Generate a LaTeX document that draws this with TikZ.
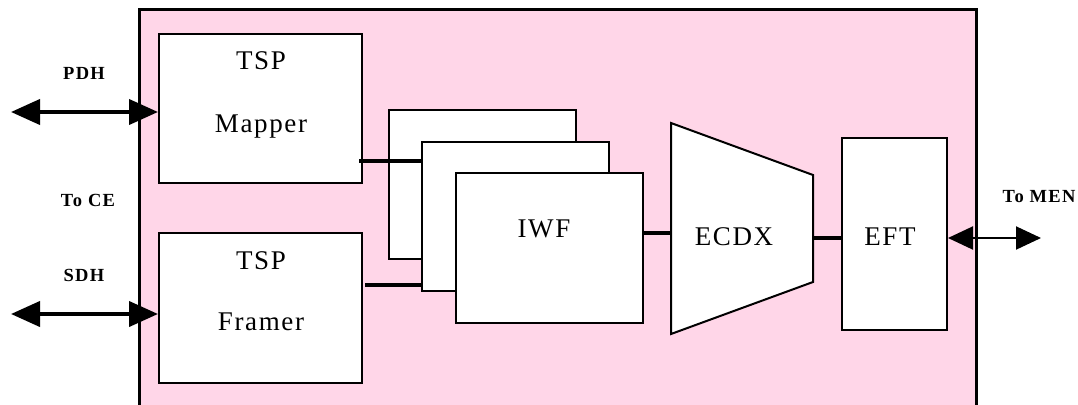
\documentclass[tikz,border=0pt]{standalone}
\usepackage{fontspec}
\setmainfont{Liberation Serif}
\usetikzlibrary{arrows.meta}
\definecolor{bgpink}{RGB}{255,214,232}
\begin{document}
\begin{tikzpicture}[x=1pt,y=-1pt,
  box/.style={draw=black,line width=2pt,fill=white,inner sep=0pt},
  lbl/.style={anchor=base,inner sep=0pt,font=\fontsize{27}{31}\selectfont\addfontfeatures{LetterSpace=6}},
  side/.style={anchor=base,inner sep=0pt,font=\fontsize{18.5}{21}\selectfont\bfseries\addfontfeatures{LetterSpace=7}},
  link/.style={line width=3.5pt},
  bigarr/.style={line width=4pt,{Triangle[length=29pt,width=25pt]}-{Triangle[length=29pt,width=25pt]}},
  smallarr/.style={line width=2pt,{Triangle[length=25pt,width=23pt]}-{Triangle[length=25pt,width=23pt]}}
]
\useasboundingbox (0,0) rectangle (1078,404);
\clip (0,0) rectangle (1078,404);
% main board
\draw[line width=3pt,fill=bgpink] (139,10) rectangle (976,430);
% TSP boxes
\node[box,minimum width=203pt,minimum height=149pt] (mapper) at (260.5,108.5) {};
\node[box,minimum width=203pt,minimum height=150pt] (framer) at (260.5,308) {};
\node[lbl] at (261,70) {TSP};
\node[lbl] at (261,132) {Mapper};
\node[lbl] at (261,269) {TSP};
\node[lbl] at (261,330) {Framer};
% IWF stack
\node[box,minimum width=187pt,minimum height=149pt] (back) at (482.5,184.5) {};
\node[box,minimum width=187pt,minimum height=149pt] (mid) at (515.5,216.5) {};
\node[box,minimum width=187pt,minimum height=150pt] (front) at (549.5,248) {};
\node[lbl] at (544,237) {IWF};
% ECDX
\coordinate (e1) at (671,123);
\coordinate (e2) at (813,175);
\coordinate (e3) at (813,282);
\coordinate (e4) at (671,334);
\draw[box] (e1) -- (e2) -- (e3) -- (e4) -- cycle;
\node[lbl] at (734,245) {ECDX};
% EFT
\node[box,minimum width=105pt,minimum height=192pt] (eft) at (894.5,234) {};
\node[lbl] at (890,245) {EFT};
% connectors
\coordinate (m1) at (359,161);
\draw[link] (m1) -- (mid.west |- m1);
\coordinate (f1) at (365,285);
\draw[link] (f1) -- (mid.west |- f1);
\coordinate (ein) at (671,233);
\draw[link] (front.east |- ein) -- (ein);
\coordinate (eout) at (813,238);
\draw[link] (eout) -- (eft.west |- eout);
% external arrows
\coordinate (pdhL) at (11,112);
\draw[bigarr] (pdhL) -- (mapper.west |- pdhL);
\coordinate (sdhL) at (11,314);
\draw[bigarr] (sdhL) -- (framer.west |- sdhL);
\coordinate (menR) at (1041,238);
\draw[smallarr] (eft.east |- menR) -- (menR);
% side labels
\node[side] at (84,79) {PDH};
\node[side] at (88,206) {To CE};
\node[side] at (84,281) {SDH};
\node[side] at (1039,202) {To MEN};
\end{tikzpicture}
\end{document}
